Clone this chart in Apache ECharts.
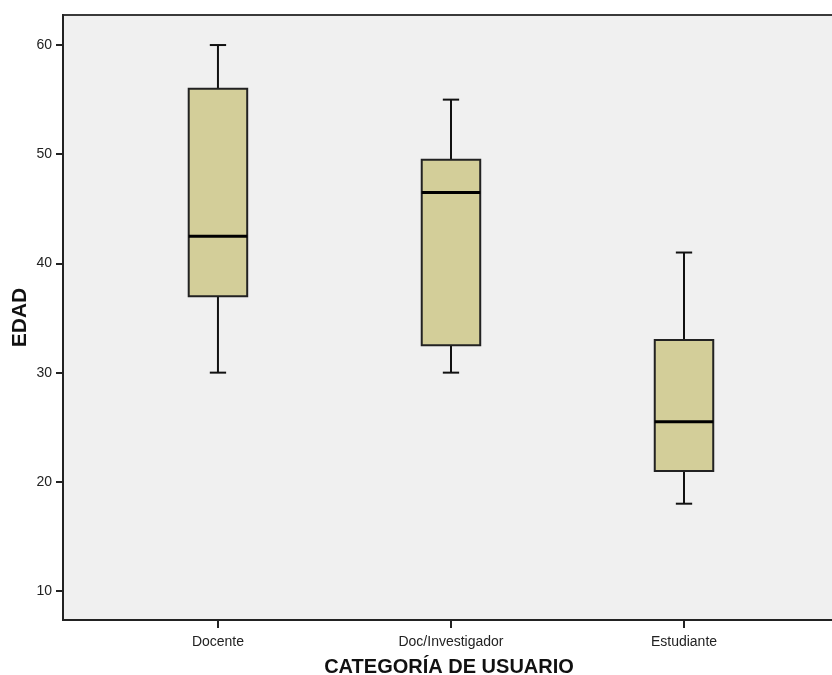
<!DOCTYPE html>
<html><head><meta charset="utf-8">
<script src="https://cdn.jsdelivr.net/npm/echarts@6/dist/echarts.min.js"></script>
<style>html,body{margin:0;padding:0;background:#fff}#c{width:832px;height:675px}</style>
</head><body><div id="c"></div>
<script>
const categories = ['Docente', 'Doc/Investigador', 'Estudiante'];
const mins    = [30, 30, 18];
const q1s     = [37, 32.5, 21];
const medians = [42.5, 46.5, 25.5];
const q3s     = [56, 49.5, 33];
const maxs    = [60, 55, 41];
const yTicks  = [10, 20, 30, 40, 50, 60];

const positions = categories.map((c, i) => i + 1);
const data = categories.map((c, i) => [positions[i], mins[i], q1s[i], medians[i], q3s[i], maxs[i]]);

const chart = echarts.init(document.getElementById('c'));
const BOXW = 0.251, CAPW = 0.07;
chart.setOption({
  animation: false,
  grid: { left: 63, top: 15, width: 772, height: 605, containLabel: false, outerBoundsMode: 'none', show: true, backgroundColor: '#f0f0f0', borderColor: '#3a3a3a', borderWidth: 2 },
  xAxis: {
    type: 'value', min: 0.335, max: 3.648,
    name: 'CATEGORÍA DE USUARIO', nameLocation: 'middle', nameGap: 37,
    nameTextStyle: { fontFamily: 'Liberation Sans', fontWeight: 'bold', fontSize: 20, color: '#111' },
    splitLine: { show: false },
    axisLine: { show: true, lineStyle: { color: '#222', width: 2 } },
    axisTick: { show: true, customValues: positions, length: 8, lineStyle: { color: '#222', width: 2 } },
    axisLabel: { customValues: positions, formatter: v => categories[Math.round(v) - 1] || '', fontFamily: 'Liberation Sans', fontSize: 14, color: '#222', margin: 15 }
  },
  yAxis: {
    type: 'value', min: 7.35, max: 62.75,
    name: 'EDAD', nameLocation: 'middle', nameGap: 32, nameRotate: 90, nameMoveOverlap: false,
    nameTextStyle: { fontFamily: 'Liberation Sans', fontWeight: 'bold', fontSize: 21, color: '#111' },
    splitLine: { show: false },
    axisLine: { show: true, lineStyle: { color: '#222', width: 2 } },
    axisTick: { show: true, customValues: yTicks, length: 7, lineStyle: { color: '#222', width: 2 } },
    axisLabel: { customValues: yTicks, fontFamily: 'Liberation Sans', fontSize: 14, color: '#222', margin: 11 }
  },
  series: [{
    type: 'custom',
    data: data,
    encode: { x: 0, y: [1, 2, 3, 4, 5] },
    renderItem: function (params, api) {
      const x = api.value(0);
      const pMin = api.coord([x, api.value(1)]);
      const pQ1 = api.coord([x, api.value(2)]);
      const pMed = api.coord([x, api.value(3)]);
      const pQ3 = api.coord([x, api.value(4)]);
      const pMax = api.coord([x, api.value(5)]);
      const bw = api.size([BOXW, 0])[0];
      const cw = api.size([CAPW, 0])[0];
      const cx = pMin[0];
      const ls = { stroke: '#111', lineWidth: 2 };
      return {
        type: 'group',
        children: [
          { type: 'line', shape: { x1: cx, y1: pMax[1], x2: cx, y2: pQ3[1] }, style: ls },
          { type: 'line', shape: { x1: cx, y1: pQ1[1], x2: cx, y2: pMin[1] }, style: ls },
          { type: 'line', shape: { x1: cx - cw / 2, y1: pMax[1], x2: cx + cw / 2, y2: pMax[1] }, style: ls },
          { type: 'line', shape: { x1: cx - cw / 2, y1: pMin[1], x2: cx + cw / 2, y2: pMin[1] }, style: ls },
          { type: 'rect', shape: { x: cx - bw / 2, y: pQ3[1], width: bw, height: pQ1[1] - pQ3[1] }, style: { fill: '#d3ce99', stroke: '#222', lineWidth: 2 } },
          { type: 'line', shape: { x1: cx - bw / 2, y1: pMed[1], x2: cx + bw / 2, y2: pMed[1] }, style: { stroke: '#000', lineWidth: 3 } }
        ]
      };
    }
  }]
});
</script></body></html>
